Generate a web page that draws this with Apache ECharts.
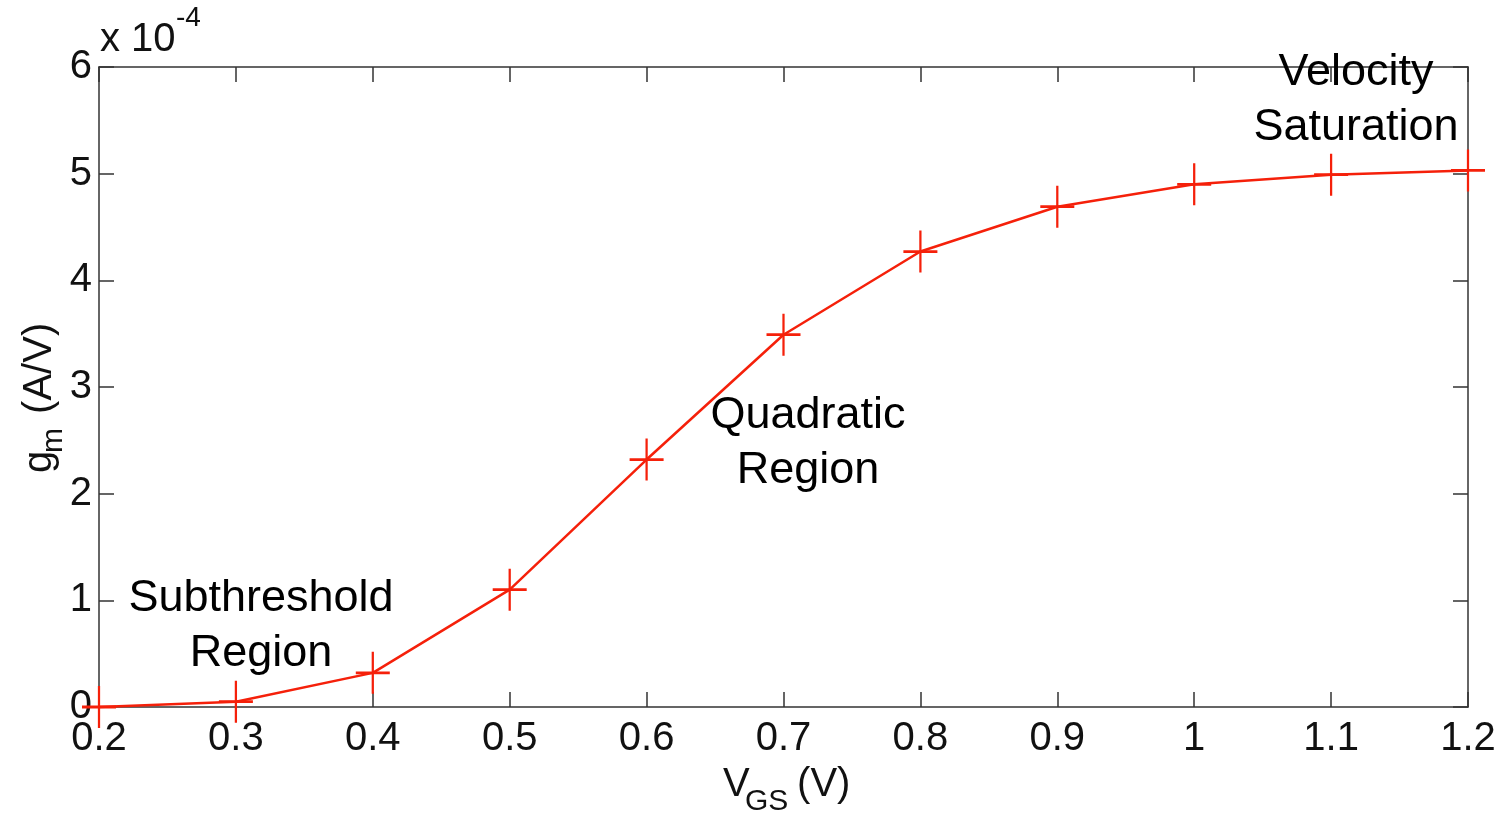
<!DOCTYPE html>
<html>
<head>
<meta charset="utf-8">
<script src="https://cdn.jsdelivr.net/npm/echarts@6/dist/echarts.min.js"></script>
<style>
html,body{margin:0;padding:0;background:#fff;}
#chart{width:1499px;height:824px;}
</style>
</head>
<body>
<div id="chart"></div>
<script>
// VGS (V)
var vgs = [0.2, 0.3, 0.4, 0.5, 0.6, 0.7, 0.8, 0.9, 1.0, 1.1, 1.2];
// gm in units of 1e-4 A/V
var gm = [0.0, 0.05, 0.32, 1.10, 2.32, 3.49, 4.27, 4.69, 4.90, 4.99, 5.03];
var yTicks = [0, 1, 2, 3, 4, 5, 6];
var annotations = ['Subthreshold\nRegion', 'Quadratic\nRegion', 'Velocity\nSaturation'];

var tickFont = '"Liberation Sans Narrow", "Liberation Sans", Arial, sans-serif';
var textFont = '"Liberation Sans", Arial, Helvetica, sans-serif';
var axisColor = '#333';

var chart = echarts.init(document.getElementById('chart'));
var option = {
  backgroundColor: '#fff',
  animation: false,
  grid: {left: 99, right: 31, top: 67, bottom: 117, containLabel: false},
  xAxis: [{
    type: 'value', min: 0.2, max: 1.2, interval: 0.1, position: 'bottom',
    axisLine: {show: true, onZero: false, lineStyle: {color: axisColor, width: 1.5}},
    axisTick: {show: true, inside: true, length: 15, lineStyle: {color: axisColor, width: 1.5}},
    axisLabel: {color: '#111', fontFamily: tickFont, fontSize: 40, margin: 12,
      formatter: function (v) { return String(+v.toFixed(1)); }},
    splitLine: {show: false}
  }, {
    type: 'value', min: 0.2, max: 1.2, interval: 0.1, position: 'top',
    axisLine: {show: true, onZero: false, lineStyle: {color: axisColor, width: 1.5}},
    axisTick: {show: true, inside: true, length: 15, lineStyle: {color: axisColor, width: 1.5}},
    axisLabel: {show: false}, splitLine: {show: false}
  }],
  yAxis: [{
    type: 'value', min: 0, max: 6, interval: 1, position: 'left',
    axisLine: {show: true, onZero: false, lineStyle: {color: axisColor, width: 1.5}},
    axisTick: {show: true, inside: true, length: 15, lineStyle: {color: axisColor, width: 1.5}},
    axisLabel: {color: '#111', fontFamily: tickFont, fontSize: 40, margin: 7,
      formatter: function (v) { return String(v); }},
    splitLine: {show: false}
  }, {
    type: 'value', min: 0, max: 6, interval: 1, position: 'right',
    axisLine: {show: true, onZero: false, lineStyle: {color: axisColor, width: 1.5}},
    axisTick: {show: true, inside: true, length: 15, lineStyle: {color: axisColor, width: 1.5}},
    axisLabel: {show: false}, splitLine: {show: false}
  }],
  series: [{
    type: 'line',
    data: vgs.map(function (x, i) { return [x, gm[i]]; }),
    xAxisIndex: 0, yAxisIndex: 0,
    clip: false,
    lineStyle: {color: '#f5200a', width: 2.5},
    symbol: 'path://M0,10 L20,10 M10,0 L10,20',
    symbolSize: [34, 42],
    symbolKeepAspect: false,
    showSymbol: true,
    itemStyle: {color: 'none', borderColor: '#f5200a', borderWidth: 2.5},
    z: 5
  }],
  graphic: [
    // multiplier
    {type: 'text', left: 100, top: 20, style: {text: 'x 10', fontFamily: tickFont, fontSize: 40, fill: '#111'}},
    {type: 'text', left: 176, top: 4, style: {text: '-4', fontFamily: tickFont, fontSize: 28, fill: '#111'}},
    // x axis title
    {type: 'text', left: 723, top: 765, style: {text: 'V', fontFamily: tickFont, fontSize: 40, fill: '#111'}},
    {type: 'text', left: 745, top: 787, style: {text: 'GS', fontFamily: tickFont, fontSize: 30, fill: '#111'}},
    {type: 'text', left: 786, top: 765, style: {text: ' (V)', fontFamily: tickFont, fontSize: 40, fill: '#111'}},
    // y axis title (rotated)
    {type: 'group', x: 40, y: 473, rotation: Math.PI / 2, children: [
      {type: 'text', x: 0, y: 0, style: {text: 'g', fontFamily: tickFont, fontSize: 40, fill: '#111', textVerticalAlign: 'middle', textAlign: 'left'}},
      {type: 'text', x: 20, y: 14, style: {text: 'm', fontFamily: tickFont, fontSize: 30, fill: '#111', textVerticalAlign: 'middle', textAlign: 'left'}},
      {type: 'text', x: 48, y: 0, style: {text: ' (A/V)', fontFamily: tickFont, fontSize: 40, fill: '#111', textVerticalAlign: 'middle', textAlign: 'left'}}
    ]},
    // annotations
    {type: 'text', x: 261, y: 626, style: {text: annotations[0], fontFamily: textFont, fontSize: 45, lineHeight: 55, fill: '#000', textAlign: 'center', textVerticalAlign: 'middle'}},
    {type: 'text', x: 808, y: 443, style: {text: annotations[1], fontFamily: textFont, fontSize: 45, lineHeight: 55, fill: '#000', textAlign: 'center', textVerticalAlign: 'middle'}},
    {type: 'text', x: 1356, y: 100, style: {text: annotations[2], fontFamily: textFont, fontSize: 45, lineHeight: 55, fill: '#000', textAlign: 'center', textVerticalAlign: 'middle'}, z: 10}
  ]
};
chart.setOption(option);
</script>
</body>
</html>
